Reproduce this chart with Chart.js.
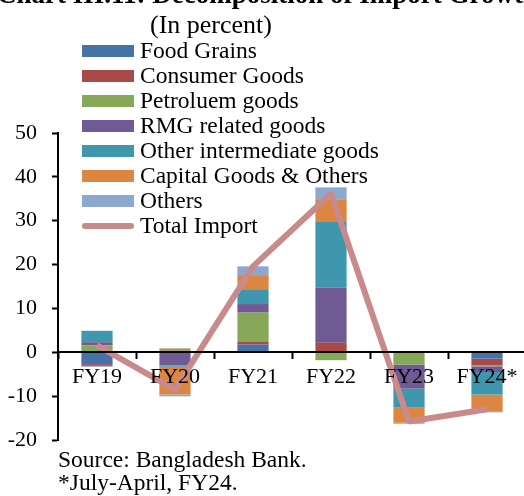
<!DOCTYPE html>
<html>
<head>
<meta charset="utf-8">
<script src="https://cdn.jsdelivr.net/npm/chart.js@4/dist/chart.umd.min.js"></script>
<style>
  html, body { margin: 0; padding: 0; background: #fff; overflow: hidden; }
  #wrap { position: relative; width: 540px; height: 496px; }
</style>
</head>
<body>
<div id="wrap"><canvas id="importChart" width="540" height="496"></canvas></div>
<script>
const FONT = '"Liberation Serif", "DejaVu Serif", serif';

const YEARS = ["FY19", "FY20", "FY21", "FY22", "FY23", "FY24*"];

const foodGrains    = [-2.7,  0.0,  1.75,  0.0,  0.0, -1.45];
const consumerGoods = [-0.4,  0.4,  0.6,   2.2,  0.0, -1.5];
const petroleum     = [ 1.6,  0.5,  6.7,  -1.8, -2.8, -0.25];
const rmgGoods      = [ 0.7, -3.0,  1.95, 12.5, -5.5, -1.3];
const otherInterm   = [ 2.6, -0.3,  3.2,  15.0, -4.2, -5.15];
const capitalGoods  = [ 0.0, -6.3,  3.4,   5.2, -3.55, -3.75];
const others        = [-0.2, -0.45, 2.0,   2.7, -0.25, -0.3];
const totalImport   = [ 1.6, -8.5, 19.6,  36.2, -15.8, -13.0];

const Y_MIN = -20, Y_MAX = 50, Y_STEP = 10;

const TITLE = "Chart III.11: Decomposition of Import Growth";
const SUBTITLE = "(In percent)";
const NOTES = ["Source: Bangladesh Bank.", "*July-April, FY24."];

const barSeries = [
    { label: "Food Grains", data: foodGrains, color: "#4673A7" },
    { label: "Consumer Goods", data: consumerGoods, color: "#A94A48" },
    { label: "Petroluem goods", data: petroleum, color: "#87A858" },   // spelling as in the source
    { label: "RMG related goods", data: rmgGoods, color: "#6F5A93" },
    { label: "Other intermediate goods", data: otherInterm, color: "#3E97AD" },
    { label: "Capital Goods & Others", data: capitalGoods, color: "#DD8641" },
    { label: "Others", data: others, color: "#8DA8CF" }
];

const LINE_COLOR = "#C98A8C";

// titles, legend and footnotes drawn straight onto the canvas
const textPlugin = {
    id: 'textPlugin',
    afterDraw(chart) {
        const ctx = chart.ctx;
        const area = chart.chartArea;
        ctx.save();
        ctx.fillStyle = '#000';
        ctx.textBaseline = 'alphabetic';

        ctx.font = 'bold 27px ' + FONT;
        ctx.textAlign = 'left';
        ctx.fillText(TITLE, -3, 3);

        ctx.font = '26px ' + FONT;
        ctx.textAlign = 'center';
        ctx.fillText(SUBTITLE, 211, 33);

        // legend
        ctx.font = '23.5px ' + FONT;
        ctx.textAlign = 'left';
        ctx.textBaseline = 'middle';
        chart.data.datasets.forEach((ds, i) => {
            const y = 51 + 25 * i;
            if (ds.type === 'line') {
                ctx.strokeStyle = ds.borderColor;
                ctx.lineWidth = 6;
                ctx.lineCap = 'round';
                ctx.beginPath();
                ctx.moveTo(85, y);
                ctx.lineTo(131, y);
                ctx.stroke();
            } else {
                ctx.fillStyle = ds.backgroundColor;
                ctx.fillRect(82, y - 6, 52, 12);
            }
            ctx.fillStyle = '#000';
            ctx.fillText(ds.label, 140, y + 1);
        });

        // footnotes
        NOTES.forEach((t, i) => ctx.fillText(t, area.left, 461 + 23 * i));
        ctx.restore();
    }
};

const datasets = barSeries.map(s => ({
    type: 'bar',
    label: s.label,
    data: s.data,
    backgroundColor: s.color,
    borderWidth: 0,
    stack: 'parts',
    barPercentage: 1,
    categoryPercentage: 0.4
}));

datasets.push({
    type: 'line',
    label: 'Total Import',
    data: totalImport,
    borderColor: LINE_COLOR,
    backgroundColor: LINE_COLOR,
    borderWidth: 6,
    borderJoinStyle: 'bevel',
    pointRadius: 0,
    tension: 0,
    stack: 'total',
    order: -1
});

const canvas = document.getElementById('importChart');
const chart = new Chart(canvas.getContext('2d'), {
    type: 'bar',
    data: { labels: YEARS, datasets: datasets },
    options: {
        responsive: false,
        animation: false,
        devicePixelRatio: 1,
        layout: { padding: { left: 0, right: 14, top: 133, bottom: 56 } },
        plugins: {
            legend: { display: false },
            title: { display: false },
            tooltip: { enabled: false }
        },
        scales: {
            x: {
                stacked: true,
                offset: true,
                position: { y: 0 },
                grid: {
                    offset: true,
                    drawOnChartArea: false,
                    drawTicks: true,
                    tickLength: 6,
                    tickWidth: 2,
                    tickColor: '#000',
                    z: 1
                },
                border: { display: true, color: '#000', width: 2, z: 1 },
                ticks: {
                    color: '#000',
                    padding: 6,
                    maxRotation: 0,
                    z: 1,
                    font: { family: FONT, size: 22 }
                }
            },
            y: {
                stacked: true,
                min: Y_MIN,
                max: Y_MAX,
                afterFit(scale) { scale.width = 58; },
                grid: {
                    drawOnChartArea: false,
                    drawTicks: true,
                    tickLength: 6,
                    tickWidth: 2,
                    tickColor: '#000'
                },
                border: { display: true, color: '#000', width: 2 },
                ticks: {
                    stepSize: Y_STEP,
                    color: '#000',
                    padding: 15,
                    font: { family: FONT, size: 22 }
                }
            }
        }
    },
    plugins: [textPlugin]
});
</script>
</body>
</html>
